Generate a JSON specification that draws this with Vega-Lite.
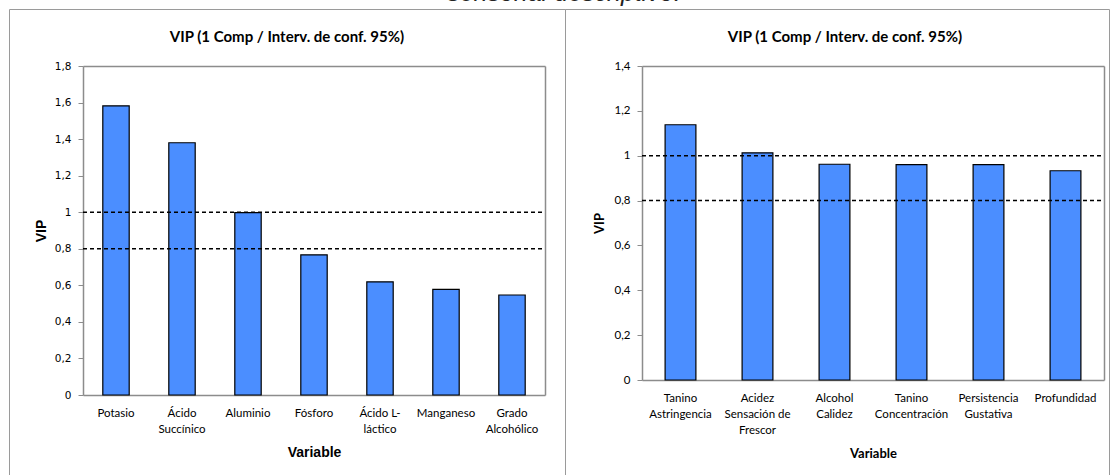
{
  "$schema": "https://vega.github.io/schema/vega-lite/v6.json",
  "autosize": {"type": "pad"},
  "padding": {"left": 8, "top": -20, "right": 3, "bottom": 0},
  "background": "#ffffff",
  "title": {
    "text": "sensorial descriptivo.",
    "font": "Liberation Sans",
    "fontStyle": "italic",
    "fontWeight": "normal",
    "fontSize": 25,
    "color": "#222222",
    "anchor": "middle",
    "baseline": "alphabetic",
    "offset": -17,
    "dx": 5
  },
  "spacing": 0,
  "bounds": "flush",
  "hconcat": [
    {
      "width": 556,
      "height": 470,
      "title": {
        "text": "VIP (1 Comp / Interv. de conf. 95%)",
        "font": "Lato",
        "fontSize": 15,
        "fontWeight": "bold",
        "color": "#000000",
        "anchor": "middle",
        "baseline": "middle",
        "offset": -43
      },
      "data": {
        "values": [
          {"variable": "Potasio", "vip": 1.582},
          {"variable": "Ácido Succínico", "vip": 1.38},
          {"variable": "Aluminio", "vip": 0.998},
          {"variable": "Fósforo", "vip": 0.767},
          {"variable": "Ácido L-láctico", "vip": 0.619},
          {"variable": "Manganeso", "vip": 0.578},
          {"variable": "Grado Alcohólico", "vip": 0.547}
        ]
      },
      "layer": [
        {
          "mark": {"type": "bar", "fill": "#4B8EFF", "stroke": "#000000", "strokeWidth": 1.2},
          "encoding": {
            "x": {
              "field": "variable",
              "type": "nominal",
              "sort": null,
              "scale": {"range": [74, 536], "paddingInner": 0.6, "paddingOuter": 0.3},
              "axis": {
                "orient": "bottom",
                "offset": -84,
                "domainColor": "#8c8c8c",
                "domainWidth": 1.5,
                "ticks": false,
                "labelAngle": 0,
                "labelFont": "Lato",
                "labelFontSize": 11.5,
                "labelColor": "#000000",
                "labelBaseline": "top",
                "labelPadding": 12,
                "labelLineHeight": 16,
                "labelOverlap": false,
                "labelExpr": "datum.value == 'Ácido Succínico' ? ['Ácido', 'Succínico'] : datum.value == 'Ácido L-láctico' ? ['Ácido L-', 'láctico'] : datum.value == 'Grado Alcohólico' ? ['Grado', 'Alcohólico'] : datum.value",
                "title": "Variable",
                "titleFont": "Liberation Sans",
                "titleFontSize": 14,
                "titleFontWeight": "bold",
                "titleColor": "#000000",
                "titleBaseline": "middle",
                "titleY": 57,
                "grid": false
              }
            },
            "y": {
              "field": "vip",
              "type": "quantitative",
              "scale": {"domain": [0, 1.8], "range": [386, 57], "nice": false},
              "axis": {
                "orient": "left",
                "offset": -74,
                "values": [0, 0.2, 0.4, 0.6, 0.8, 1, 1.2, 1.4, 1.6, 1.8],
                "labelExpr": "replace(format(datum.value, '.1~f'), '.', ',')",
                "domainColor": "#8c8c8c",
                "domainWidth": 1.5,
                "tickColor": "#8c8c8c",
                "tickSize": 5,
                "labelPadding": 7,
                "labelFont": "DejaVu Sans",
                "labelFontSize": 10.5,
                "labelColor": "#000000",
                "title": "VIP",
                "titleFont": "Liberation Sans",
                "titleFontSize": 14,
                "titleFontWeight": "bold",
                "titleColor": "#000000",
                "titleBaseline": "middle",
                "titleX": -42,
                "grid": false
              }
            }
          }
        },
        {
          "data": {"values": [{"umbral": 0.8}, {"umbral": 1}]},
          "mark": {"type": "rule", "color": "#000000", "strokeDash": [4, 3], "strokeWidth": 1.5},
          "encoding": {
            "y": {
              "field": "umbral",
              "type": "quantitative",
              "scale": {"domain": [0, 1.8], "range": [386, 57], "nice": false},
              "axis": {"orient": "right", "offset": -20, "labels": false, "ticks": false, "domainColor": "#8c8c8c", "domainWidth": 1.5, "title": null, "grid": false}
            },
            "x": {
              "datum": 0,
              "type": "quantitative",
              "scale": {"domain": [0, 1], "range": [74, 536], "nice": false},
              "axis": {"orient": "top", "offset": -57, "labels": false, "ticks": false, "domainColor": "#8c8c8c", "domainWidth": 1.5, "title": null, "grid": false}
            },
            "x2": {"datum": 1}
          }
        }
      ],
      "resolve": {"scale": {"x": "independent"}, "axis": {"x": "independent", "y": "independent"}}
    },
    {
      "width": 544,
      "height": 470,
      "title": {
        "text": "VIP (1 Comp / Interv. de conf. 95%)",
        "font": "Lato",
        "fontSize": 15,
        "fontWeight": "bold",
        "color": "#000000",
        "anchor": "middle",
        "baseline": "middle",
        "offset": -43,
        "dx": 8
      },
      "data": {
        "values": [
          {"variable": "Tanino Astringencia", "vip": 1.138},
          {"variable": "Acidez Sensación de Frescor", "vip": 1.013},
          {"variable": "Alcohol Calidez", "vip": 0.962},
          {"variable": "Tanino Concentración", "vip": 0.96},
          {"variable": "Persistencia Gustativa", "vip": 0.96},
          {"variable": "Profundidad", "vip": 0.933}
        ]
      },
      "layer": [
        {
          "mark": {"type": "bar", "fill": "#4B8EFF", "stroke": "#000000", "strokeWidth": 1.2},
          "encoding": {
            "x": {
              "field": "variable",
              "type": "nominal",
              "sort": null,
              "scale": {"range": [77, 539], "paddingInner": 0.6, "paddingOuter": 0.3},
              "axis": {
                "orient": "bottom",
                "offset": -99,
                "domainColor": "#8c8c8c",
                "domainWidth": 1.5,
                "ticks": false,
                "labelAngle": 0,
                "labelFont": "Lato",
                "labelFontSize": 11.5,
                "labelColor": "#000000",
                "labelBaseline": "top",
                "labelPadding": 12,
                "labelLineHeight": 16,
                "labelOverlap": false,
                "labelExpr": "datum.value == 'Tanino Astringencia' ? ['Tanino', 'Astringencia'] : datum.value == 'Acidez Sensación de Frescor' ? ['Acidez', 'Sensación  de', 'Frescor'] : datum.value == 'Alcohol Calidez' ? ['Alcohol', 'Calidez'] : datum.value == 'Tanino Concentración' ? ['Tanino', 'Concentración'] : datum.value == 'Persistencia Gustativa' ? ['Persistencia', 'Gustativa'] : datum.value",
                "title": "Variable",
                "titleFont": "Lato",
                "titleFontSize": 13,
                "titleFontWeight": "bold",
                "titleColor": "#000000",
                "titleBaseline": "middle",
                "titleY": 73,
                "grid": false
              }
            },
            "y": {
              "field": "vip",
              "type": "quantitative",
              "scale": {"domain": [0, 1.4], "range": [371, 57], "nice": false},
              "axis": {
                "orient": "left",
                "offset": -77,
                "values": [0, 0.2, 0.4, 0.6, 0.8, 1, 1.2, 1.4],
                "labelExpr": "replace(format(datum.value, '.1~f'), '.', ',')",
                "domainColor": "#8c8c8c",
                "domainWidth": 1.5,
                "tickColor": "#8c8c8c",
                "tickSize": 5,
                "labelPadding": 7,
                "labelFont": "Lato",
                "labelFontSize": 11.5,
                "labelColor": "#000000",
                "title": "VIP",
                "titleFont": "Lato",
                "titleFontSize": 13,
                "titleFontWeight": "bold",
                "titleColor": "#000000",
                "titleBaseline": "middle",
                "titleX": -43,
                "grid": false
              }
            }
          }
        },
        {
          "data": {"values": [{"umbral": 0.8}, {"umbral": 1}]},
          "mark": {"type": "rule", "color": "#000000", "strokeDash": [4, 3], "strokeWidth": 1.5},
          "encoding": {
            "y": {
              "field": "umbral",
              "type": "quantitative",
              "scale": {"domain": [0, 1.4], "range": [371, 57], "nice": false},
              "axis": {"orient": "right", "offset": -5, "labels": false, "ticks": false, "domainColor": "#8c8c8c", "domainWidth": 1.5, "title": null, "grid": false}
            },
            "x": {
              "datum": 0,
              "type": "quantitative",
              "scale": {"domain": [0, 1], "range": [77, 539], "nice": false},
              "axis": {"orient": "top", "offset": -57, "labels": false, "ticks": false, "domainColor": "#8c8c8c", "domainWidth": 1.5, "title": null, "grid": false}
            },
            "x2": {"datum": 1}
          }
        }
      ],
      "resolve": {"scale": {"x": "independent"}, "axis": {"x": "independent", "y": "independent"}}
    }
  ],
  "config": {
    "view": {"stroke": "#9a9a9a", "strokeWidth": 1},
    "axis": {"grid": false}
  }
}
